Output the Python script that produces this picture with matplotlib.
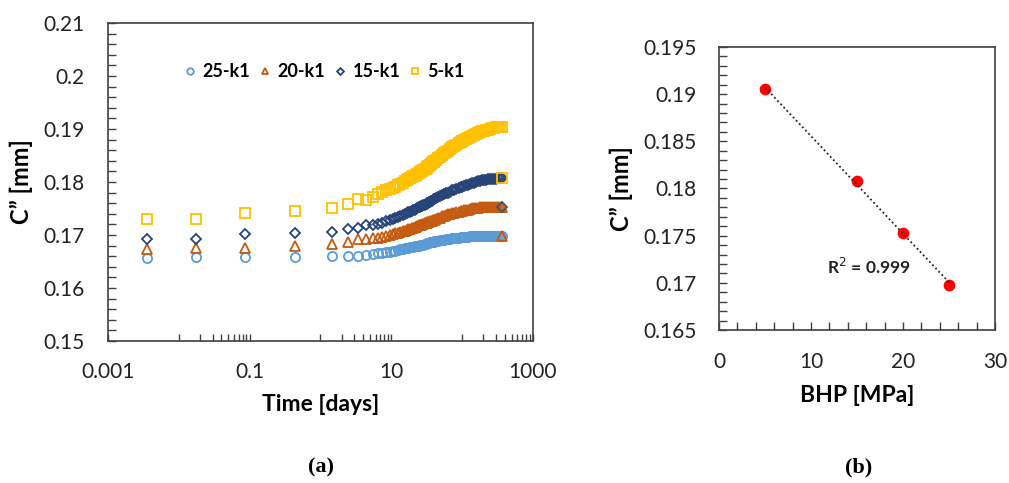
import numpy as np
import matplotlib.pyplot as plt
from matplotlib.ticker import FixedLocator, FuncFormatter, MultipleLocator, NullFormatter

plt.rcParams['font.family'] = ['Lato', 'DejaVu Sans']

# simulation output times [days]
time_days = [0.0036, 0.0175, 0.086, 0.44,
             1.44, 2.44, 3.44, 4.44, 5.44, 6.44, 7.44, 8.44, 9.44, 10.44,
             11.44, 12.44, 13.44, 14.44, 15.44, 16.44, 17.44, 18.44, 19.44, 20.44,
             21.44, 22.44, 23.44, 24.44, 25.44, 26.44, 27.44, 28.44, 29.44, 30.44,
             31.44, 32.44, 33.44, 34.44, 35.44, 36.44, 37.44, 38.44, 39.44, 40.44,
             43, 46, 49, 52, 56, 60, 64, 68, 73, 78,
             83, 89, 95, 101, 108, 115, 123, 131, 140, 149,
             159, 170, 181, 193, 206, 220, 235, 251, 268, 286,
             305, 325, 345, 365]

# C'' [mm] for each BHP case
c_25k1 = [0.1657, 0.1659, 0.1659, 0.1659,
          0.1661, 0.1661, 0.1661, 0.1663, 0.1665, 0.1666, 0.1666, 0.1667, 0.1668, 0.1669,
          0.1670, 0.1672, 0.1673, 0.1674, 0.1675, 0.1675, 0.1676, 0.1677, 0.1677, 0.1678,
          0.1679, 0.1679, 0.1680, 0.1680, 0.1681, 0.1681, 0.1682, 0.1682, 0.1683, 0.1683,
          0.1684, 0.1684, 0.1685, 0.1685, 0.1686, 0.1686, 0.1686, 0.1687, 0.1687, 0.1688,
          0.1688, 0.1689, 0.1690, 0.1690, 0.1691, 0.1692, 0.1692, 0.1693, 0.1694, 0.1694,
          0.1695, 0.1695, 0.1696, 0.1696, 0.1697, 0.1697, 0.1697, 0.1698, 0.1698, 0.1698,
          0.1698, 0.1698, 0.1699, 0.1699, 0.1699, 0.1699, 0.1699, 0.1699, 0.1699, 0.1699,
          0.1699, 0.1699, 0.1699, 0.1699]
c_20k1 = [0.1673, 0.1675, 0.1675, 0.1679,
          0.1683, 0.1687, 0.1692, 0.1692, 0.1694, 0.1695, 0.1697, 0.1699, 0.1700, 0.1701,
          0.1703, 0.1704, 0.1706, 0.1707, 0.1708, 0.1709, 0.1711, 0.1712, 0.1713, 0.1714,
          0.1715, 0.1716, 0.1717, 0.1718, 0.1719, 0.1719, 0.1720, 0.1721, 0.1722, 0.1723,
          0.1723, 0.1724, 0.1725, 0.1725, 0.1726, 0.1727, 0.1727, 0.1728, 0.1729, 0.1729,
          0.1730, 0.1732, 0.1733, 0.1735, 0.1736, 0.1737, 0.1739, 0.1740, 0.1741, 0.1742,
          0.1743, 0.1744, 0.1745, 0.1746, 0.1747, 0.1748, 0.1748, 0.1749, 0.1750, 0.1750,
          0.1751, 0.1751, 0.1752, 0.1752, 0.1752, 0.1753, 0.1753, 0.1753, 0.1753, 0.1753,
          0.1753, 0.1753, 0.1753, 0.1753]
c_15k1 = [0.1692, 0.1692, 0.1701, 0.1703,
          0.1706, 0.1711, 0.1714, 0.1719, 0.1718, 0.1720, 0.1723, 0.1726, 0.1729, 0.1730,
          0.1732, 0.1734, 0.1736, 0.1738, 0.1740, 0.1741, 0.1743, 0.1744, 0.1746, 0.1747,
          0.1748, 0.1749, 0.1751, 0.1752, 0.1753, 0.1754, 0.1755, 0.1756, 0.1757, 0.1758,
          0.1759, 0.1760, 0.1761, 0.1762, 0.1763, 0.1764, 0.1765, 0.1766, 0.1767, 0.1767,
          0.1769, 0.1771, 0.1773, 0.1775, 0.1777, 0.1779, 0.1780, 0.1782, 0.1784, 0.1785,
          0.1787, 0.1788, 0.1790, 0.1791, 0.1792, 0.1794, 0.1795, 0.1796, 0.1798, 0.1799,
          0.1800, 0.1801, 0.1802, 0.1803, 0.1803, 0.1804, 0.1805, 0.1805, 0.1806, 0.1806,
          0.1806, 0.1807, 0.1807, 0.1807]
c_5k1 = [0.1731, 0.1731, 0.1741, 0.1745,
         0.1750, 0.1758, 0.1768, 0.1766, 0.1772, 0.1777, 0.1781, 0.1784, 0.1787, 0.1789,
         0.1791, 0.1794, 0.1797, 0.1799, 0.1801, 0.1803, 0.1805, 0.1807, 0.1809, 0.1811,
         0.1812, 0.1814, 0.1815, 0.1817, 0.1818, 0.1820, 0.1821, 0.1822, 0.1824, 0.1825,
         0.1827, 0.1828, 0.1830, 0.1831, 0.1833, 0.1834, 0.1835, 0.1837, 0.1838, 0.1839,
         0.1842, 0.1845, 0.1848, 0.1851, 0.1854, 0.1857, 0.1859, 0.1862, 0.1866, 0.1868,
         0.1870, 0.1873, 0.1875, 0.1877, 0.1879, 0.1881, 0.1883, 0.1885, 0.1887, 0.1889,
         0.1891, 0.1893, 0.1894, 0.1896, 0.1897, 0.1898, 0.1899, 0.1900, 0.1901, 0.1902,
         0.1903, 0.1903, 0.1904, 0.1904]

# stray last points sitting on the neighbouring curve ends
tail_time = 365
tail_5k1 = 0.1807
tail_15k1 = 0.1753
tail_20k1 = 0.1699

# final C'' vs bottom hole pressure
bhp = [5, 15, 20, 25]
c_final = [0.1905, 0.1808, 0.1753, 0.1698]

series = [('25-k1', c_25k1, 'o', '#5B9BD5', 6.6),
          ('20-k1', c_20k1, '^', '#C55A11', 6.6),
          ('15-k1', c_15k1, 'D', '#264478', 5.0),
          ('5-k1', c_5k1, 's', '#FFC000', 6.6)]

frame_col = '#404040'
fig = plt.figure(figsize=(10.09, 4.83), dpi=100)

# ---- (a) C'' vs time ----
ax1 = fig.add_axes([0.1070, 0.2940, 0.4212, 0.6584])
for name, vals, mk, col, ms in series:
    ax1.plot(time_days, vals, linestyle='none', marker=mk, markersize=ms,
             markerfacecolor='none', markeredgecolor=col, markeredgewidth=1.3, label=name)
ax1.plot([tail_time], [tail_20k1], linestyle='none', marker='^', markersize=6.6,
         markerfacecolor='none', markeredgecolor='#C55A11', markeredgewidth=1.3)
ax1.plot([tail_time], [tail_15k1], linestyle='none', marker='D', markersize=5.0,
         markerfacecolor='none', markeredgecolor='#44546A', markeredgewidth=1.3)
ax1.plot([tail_time], [tail_5k1], linestyle='none', marker='s', markersize=6.6,
         markerfacecolor='none', markeredgecolor='#FFC000', markeredgewidth=1.3)

ax1.set_xscale('log')
ax1.set_xlim(0.001, 1000)
ax1.set_ylim(0.15, 0.21)
ax1.xaxis.set_major_locator(FixedLocator([0.001, 0.1, 10, 1000]))
minor_x = [k * 10.0 ** d for d in (-2, 0, 2) for k in range(1, 10)]
ax1.xaxis.set_minor_locator(FixedLocator(minor_x))
ax1.xaxis.set_minor_formatter(NullFormatter())
ax1.xaxis.set_major_formatter(FuncFormatter(lambda v, p: '%g' % v))
ax1.yaxis.set_major_locator(MultipleLocator(0.01))
ax1.yaxis.set_minor_locator(MultipleLocator(0.002))
ax1.yaxis.set_major_formatter(FuncFormatter(lambda v, p: '%g' % round(v, 3)))
ax1.tick_params(axis='x', which='both', direction='in', length=5, width=1, color=frame_col,
                labelsize=15, pad=15, labelcolor='#222222')
ax1.tick_params(axis='y', which='both', direction='in', length=6, width=1, color=frame_col,
                labelsize=15, pad=17, labelcolor='#222222')
ax1.set_xlabel('Time [days]', fontsize=16.5, fontweight='bold', labelpad=9)
ax1.set_ylabel('C\u201d [mm]', fontsize=17, fontweight='bold')
ax1.yaxis.set_label_coords(-0.176, 0.5)
for sp in ax1.spines.values():
    sp.set_color(frame_col)
    sp.set_linewidth(1.2)

ax1.legend(loc='center', bbox_to_anchor=(0.506, 0.847), ncol=4, frameon=False,
           markerscale=0.7, handletextpad=0.2, columnspacing=0.3, handlelength=1.0,
           prop={'weight': 'bold', 'size': 13})

# ---- (b) C'' vs BHP ----
ax2 = fig.add_axes([0.7126, 0.3168, 0.2735, 0.5859])
slope, icpt = np.polyfit(bhp, c_final, 1)
fit_x = np.array([min(bhp), max(bhp)])
ax2.plot(fit_x, slope * fit_x + icpt, linestyle=(0, (1, 1.5)), color='#222222', linewidth=1.3, zorder=3)
ax2.scatter(bhp, c_final, s=55, color='#FF0000', zorder=2)
r2 = np.corrcoef(bhp, c_final)[0, 1] ** 2
ax2.text(16.3, 0.1717, 'R$^{2}$ = %.3f' % r2, fontsize=12.5, fontweight='bold',
         ha='center', va='center', color='#222222')

ax2.set_xlim(0, 30)
ax2.set_ylim(0.165, 0.195)
ax2.xaxis.set_major_locator(MultipleLocator(10))
ax2.xaxis.set_minor_locator(MultipleLocator(2))
ax2.yaxis.set_major_locator(MultipleLocator(0.005))
ax2.yaxis.set_minor_locator(MultipleLocator(0.001))
ax2.yaxis.set_major_formatter(FuncFormatter(lambda v, p: '%g' % round(v, 4)))
ax2.tick_params(axis='x', which='both', direction='in', length=6, width=1, color=frame_col,
                labelsize=15, pad=16, labelcolor='#222222')
ax2.tick_params(axis='y', which='both', direction='in', length=6, width=1, color=frame_col,
                labelsize=15, pad=16, labelcolor='#222222')
ax2.set_xlabel('BHP [MPa]', fontsize=16.5, fontweight='bold', labelpad=9)
ax2.set_ylabel('C\u201d [mm]', fontsize=17, fontweight='bold')
ax2.yaxis.set_label_coords(-0.31, 0.5)
for sp in ax2.spines.values():
    sp.set_color(frame_col)
    sp.set_linewidth(1.2)

fig.text(321 / 1009, 1 - 467 / 483, '(a)', family='Liberation Serif', fontweight='bold',
         fontsize=16, ha='center', va='center')
fig.text(859 / 1009, 1 - 467 / 483, '(b)', family='Liberation Serif', fontweight='bold',
         fontsize=16, ha='center', va='center')

fig.savefig('out.png', dpi=100)
